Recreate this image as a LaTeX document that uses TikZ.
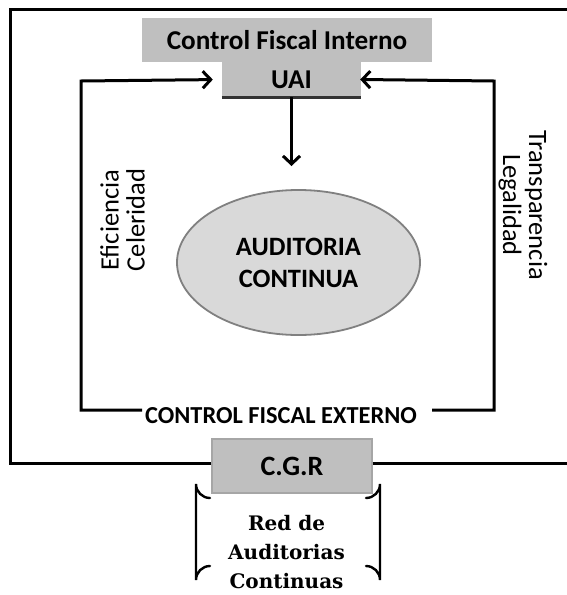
\documentclass[tikz,border=0pt]{standalone}
\usepackage{fontspec}
\setmainfont{Carlito}
\newfontfamily\capserif{DejaVu Serif}
\usetikzlibrary{arrows.meta,shapes.geometric}
\begin{document}
\begin{tikzpicture}[x=1pt,y=-1pt,
  conn/.style={line width=3pt,black},
  tip/.style={-{Straight Barb[length=8pt,width=17pt,line width=3pt]}},
  graybox/.style={fill=black!25,draw=none,inner sep=0pt,font=\bfseries\fontsize{27.2}{29}\selectfont},
  vtext/.style={align=center,font=\fontsize{26.5}{26}\selectfont,inner sep=0pt}]
\useasboundingbox (0,0) rectangle (566,595);
\fill[white] (0,0) rectangle (566,595);
% boxes
\node[graybox,minimum width=290pt,minimum height=44pt] (cfi) at (287,40) {Control Fiscal Interno};
\node[graybox,minimum width=139pt,minimum height=35pt] (uai) at (291.5,79.5) {UAI};
\draw[line width=3pt,black!80] (uai.south west) -- (uai.south east);
\node[ellipse,fill=black!15,draw=black!50,line width=1.8pt,minimum width=243pt,minimum height=145pt,align=center,font=\bfseries\fontsize{26.5}{32}\selectfont,inner sep=0pt] (aud) at (298.5,262.5) {AUDITORIA\\CONTINUA};
\coordinate (dn) at (291.5,166);
\draw[conn,tip] (uai.south) -- (dn);
% external control label
\node[font=\bfseries\fontsize{24.4}{26}\selectfont,inner sep=0pt] (ext) at (281,416) {CONTROL FISCAL EXTERNO};
\coordinate (bl) at (81,410);
\coordinate (tl) at (81,81);
\coordinate (br) at (494,410);
\coordinate (tr) at (494,81);
\coordinate (eL) at (142,410);
\coordinate (eR) at (432,410);
\draw[conn,tip,shorten >=9pt] (eL) -- (bl) -- (tl) -- (uai.west);
\draw[conn,tip,shorten >=-1pt] (eR) -- (br) -- (tr) -- (uai.east);
% vertical texts
\node[vtext,rotate=90] (efi) at (122.5,220) {Eficiencia\\Celeridad};
\node[vtext,rotate=-90] (tra) at (523,205) {Transparencia\\Legalidad};
% CGR
\node[graybox,draw=black!35,line width=1.2pt,minimum width=160pt,minimum height=54pt,font=\bfseries\fontsize{28}{30}\selectfont] (cgr) at (292,466) {C.G.R};
\draw[conn] (cgr.west |- 0,463) -- (10,463) -- (10,9) -- (570,9);
\draw[conn] (cgr.east |- 0,463) -- (570,463);
% Red de auditorias
\node[align=center,font=\capserif\bfseries\fontsize{20}{29}\selectfont,inner sep=0pt] (red) at (286.5,552) {Red de\\Auditorias\\Continuas};
\draw[line width=2.4pt,line cap=round] (210,498) arc[start angle=90,end angle=180,radius=14] -- (196,580) arc[start angle=180,end angle=270,radius=14];
\draw[line width=2.4pt,line cap=round] (366,498) arc[start angle=90,end angle=0,radius=14] -- (380,580) arc[start angle=0,end angle=-90,radius=14];
\end{tikzpicture}
\end{document}
